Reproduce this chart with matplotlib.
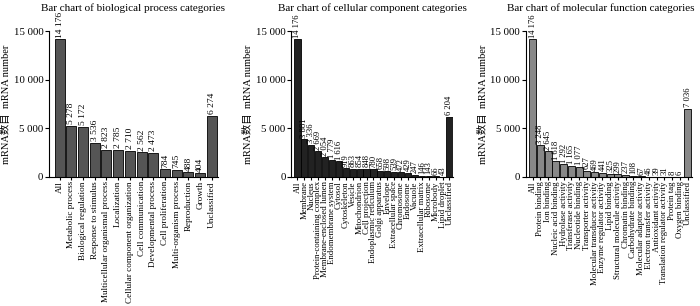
import matplotlib.pyplot as plt

plt.rcParams['font.family'] = ['Liberation Serif', 'Noto Sans CJK SC']

bp_names = ['All', 'Metabolic process', 'Biological regulation', 'Response to stimulus',
            'Multicellular organismal process', 'Localization',
            'Cellular component organization', 'Cell communication',
            'Developmental process', 'Cell proliferation', 'Multi-organism process',
            'Reproduction', 'Growth', 'Unclassified']
bp_vals = [14176, 5278, 5172, 3536, 2823, 2785, 2710, 2562, 2473, 784, 745, 488, 404, 6274]

cc_names = ['All', 'Membrane', 'Nucleus', 'Protein-containing complex',
            'Membrane-enclosed lumen', 'Endomembrane system', 'Cytosol', 'Cytoskeleton',
            'Vesicle', 'Mitochondrion', 'Cell projection', 'Endoplasmic reticulum',
            'Golgi apparatus', 'Envelope', 'Extracellular space', 'Chromosome',
            'Endosome', 'Vacuole', 'Extracellular matrix', 'Ribosome', 'Microbody',
            'Lipid droplet', 'Unclassified']
cc_vals = [14176, 3881, 3336, 2669, 2054, 1779, 1616, 919, 863, 854, 848, 780,
           658, 598, 539, 472, 429, 247, 146, 143, 66, 43, 6204]

mf_names = ['All', 'Protein binding', 'Ion binding', 'Nucleic acid binding',
            'Hydrolase activity', 'Transferase activity', 'Nucleotide binding',
            'Transporter activity', 'Molecular transducer activity',
            'Enzyme regulator activity', 'Lipid binding', 'Structural molecule activity',
            'Chromatin binding', 'Carbohydrate binding', 'Molecular adaptor activity',
            'Electron transfer activity', 'Antioxidant activity',
            'Translation regulator activity', 'Protein tag', 'Oxygen binding',
            'Unclassified']
mf_vals = [14176, 3248, 2645, 1618, 1292, 1165, 1077, 627, 469, 441, 325, 299,
           237, 108, 67, 46, 39, 31, 8, 6, 7036]

titles = ['Bar chart of biological process categories',
          'Bar chart of cellular component categories',
          'Bar chart of molecular function categories']


def fmt(v):
    return f'{v:,}'.replace(',', ' ')


fig = plt.figure(figsize=(7, 3.06), dpi=100)
# names, values, colour, rect, tick size, value size, bar width, title x
panels = [
    (bp_names, bp_vals, '#555555', [0.070, 0.4216, 0.241, 0.477], 6.6, 6.8, 0.85, 0.5),
    (cc_names, cc_vals, '#222222', [0.416, 0.4216, 0.231, 0.477], 6.3, 6.2, 0.9, 0.5),
    (mf_names, mf_vals, '#888888', [0.751, 0.4216, 0.237, 0.477], 6.3, 6.2, 0.9, 0.45),
]

for (names, vals, color, rect, lfs, vfs, w, tx), title in zip(panels, titles):
    ax = fig.add_axes(rect)
    x = range(len(vals))
    ax.bar(x, vals, width=w, color=color, edgecolor='black', linewidth=0.6)
    for xi, v in zip(x, vals):
        ax.text(xi, v + 150, fmt(v), rotation=90, ha='center', va='bottom',
                fontsize=vfs, clip_on=False)
    ax.set_xlim(-0.9, len(vals) - 0.5)
    ax.set_ylim(0, 15000)
    ax.set_yticks([0, 5000, 10000, 15000])
    ax.set_yticklabels([fmt(t) for t in [0, 5000, 10000, 15000]], fontsize=7.8)
    ax.set_xticks(list(x))
    ax.set_xticklabels(names, rotation=90, fontsize=lfs)
    ax.tick_params(axis='x', length=2, pad=1)
    ax.tick_params(axis='y', length=3, pad=1)
    ax.spines['top'].set_visible(False)
    ax.spines['right'].set_visible(False)
    ax.set_ylabel('mRNA数目  mRNA number', fontsize=7.5, labelpad=2)
    ax.set_title(title, fontsize=8, pad=14.5, x=tx)

fig.savefig('out.png', dpi=100)
